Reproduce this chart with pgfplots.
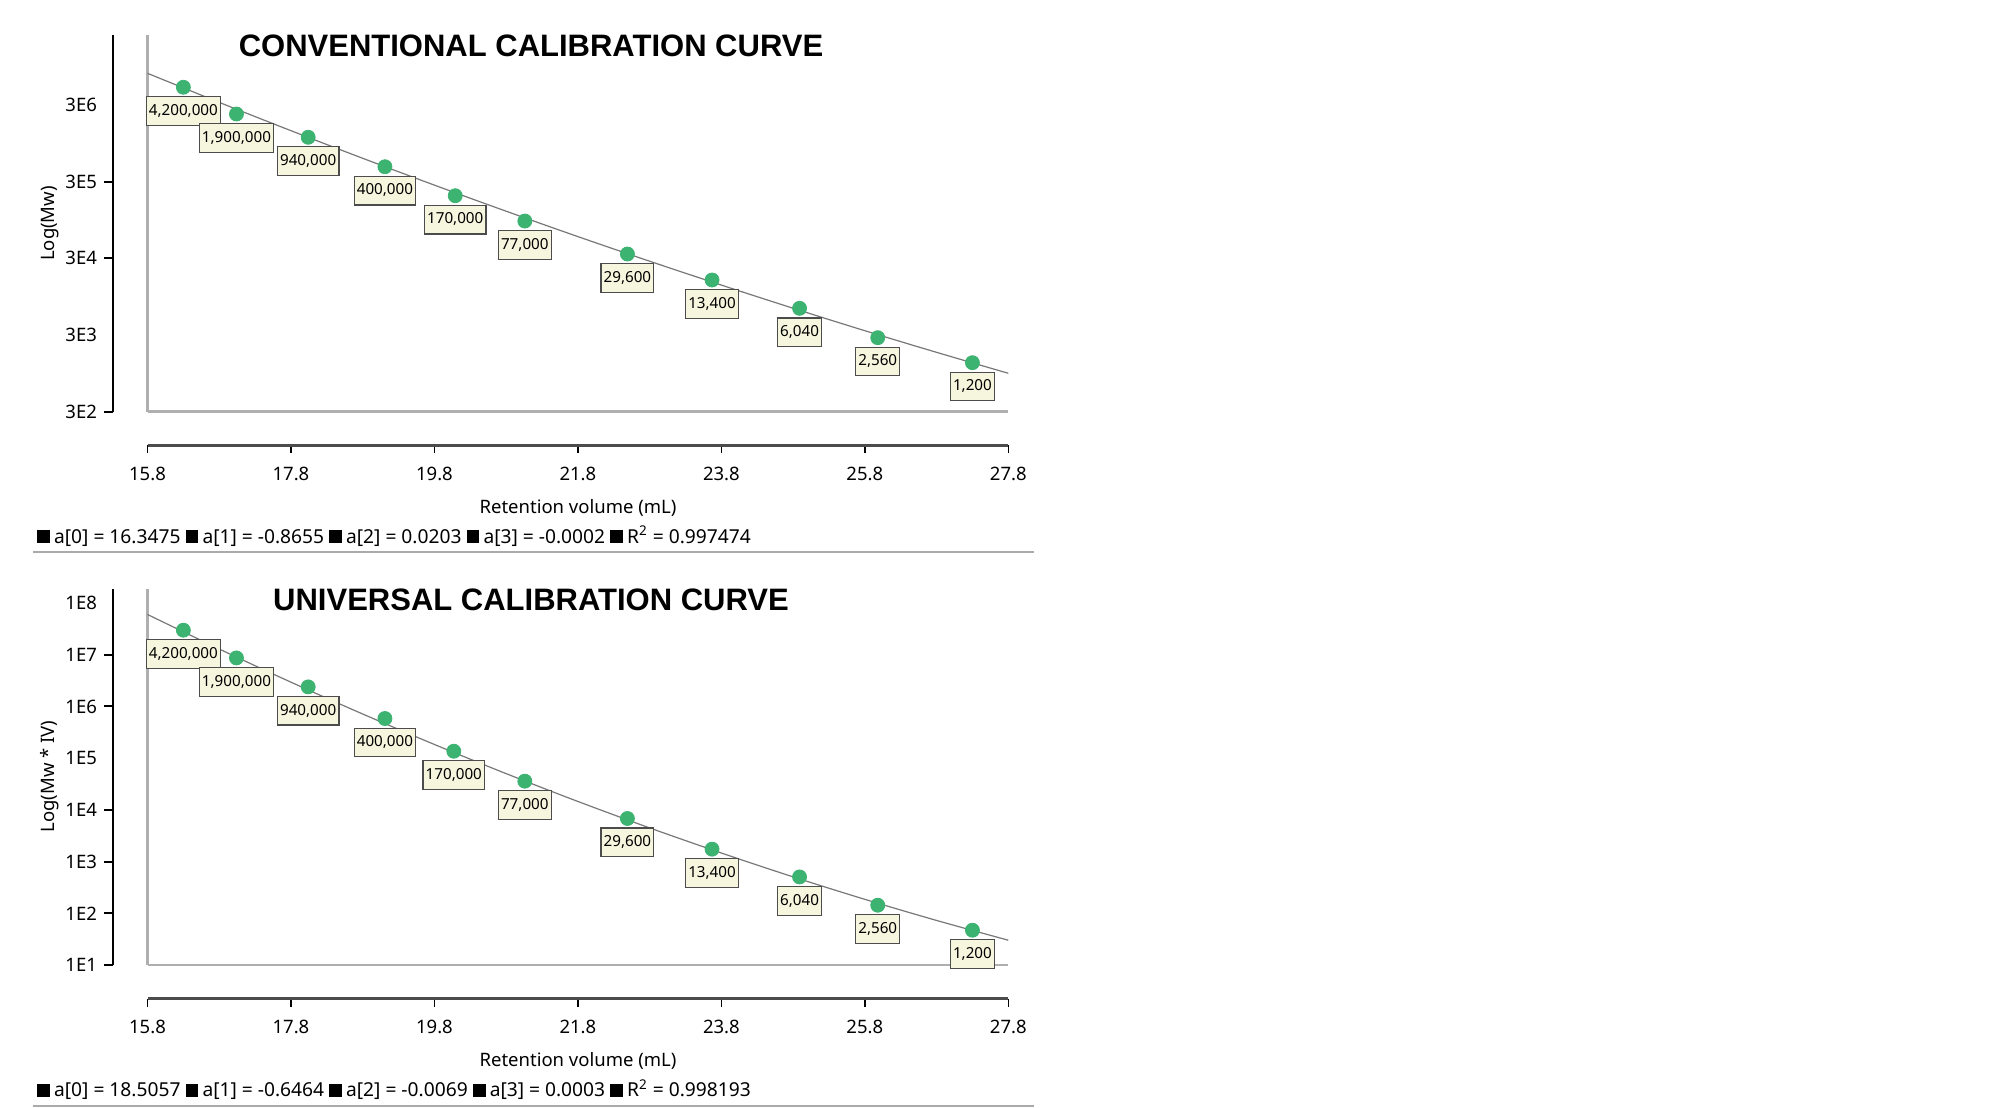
\documentclass[border=0pt]{standalone}
\usepackage{pgfplots}
\usepackage{pgfplotstable}
\pgfplotsset{compat=1.18}
\usepackage{fontspec}
\setmainfont{Noto Sans}
\newfontfamily\titlefam{Liberation Sans}
\definecolor{ptgreen}{RGB}{60,179,113}
\definecolor{boxfill}{RGB}{246,246,222}
\definecolor{axgray}{RGB}{175,175,175}
\definecolor{linegray}{RGB}{120,120,120}
\definecolor{sepgray}{RGB}{170,170,170}
\newcommand\tickfont{\fontsize{9.25pt}{11pt}\selectfont}
\newcommand\coeffont{\fontsize{9.6pt}{11pt}\selectfont}
\newcommand\labfont{\fontsize{7.6pt}{9pt}\selectfont}
\newcommand\sq{\rule{6.4pt}{6.4pt}\hspace{0.22em}}

\pgfplotstableread{
x y label
16.30 6.707 4,200,000
17.04 6.358 1,900,000
18.04 6.055 940,000
19.11 5.671 400,000
20.09 5.293 170,000
21.06 4.963 77,000
22.49 4.533 29,600
23.67 4.194 13,400
24.89 3.825 6,040
25.98 3.442 2,560
27.30 3.116 1,200
}\convpts
\pgfplotstableread{
x y
15.8 6.889
16.8 6.510
17.8 6.141
18.8 5.781
19.8 5.431
20.8 5.091
21.8 4.760
22.8 4.439
23.8 4.128
24.8 3.826
25.8 3.533
26.8 3.251
27.8 2.978
}\convfit
\pgfplotstableread{
x y label
16.30 7.473 4,200,000
17.04 6.938 1,900,000
18.04 6.378 940,000
19.11 5.767 400,000
20.07 5.135 170,000
21.06 4.556 77,000
22.49 3.835 29,600
23.67 3.242 13,400
24.89 2.706 6,040
25.98 2.159 2,560
27.30 1.676 1,200
}\univpts
\pgfplotstableread{
x y
15.8 7.777
16.8 7.110
17.8 6.469
18.8 5.854
19.8 5.265
20.8 4.702
21.8 4.164
22.8 3.653
23.8 3.168
24.8 2.707
25.8 2.273
26.8 1.865
27.8 1.483
}\univfit

\pgfplotsset{
  dataaxis/.style={scale only axis, width=430.4pt, height=188.35pt, anchor=south west,
    xmin=15.8, xmax=27.8, axis x line*=bottom, axis y line*=left,
    xtick=\empty, ytick=\empty, axis line style={draw=axgray, line width=1.25pt}, clip=false},
  yaxisov/.style={scale only axis, width=10pt, height=188.35pt, anchor=south west,
    xmin=0, xmax=1, hide x axis, axis y line*=left,
    axis line style={draw=black, line width=1pt}, ytick align=outside,
    major tick length=4.5pt, yticklabel style={font=\tickfont, text=black}},
  xaxisov/.style={scale only axis, width=430.4pt, height=1pt, anchor=south west,
    xmin=15.8, xmax=27.8, ymin=0, ymax=1, hide y axis, axis x line*=bottom,
    axis line style={draw=black!70, line width=1.5pt},
    xtick={15.8,17.8,19.8,21.8,23.8,25.8,27.8},
    xticklabels={15.8,17.8,19.8,21.8,23.8,25.8,27.8},
    xtick align=outside, major tick length=4pt,
    xtick style={draw=black, line width=0.8pt},
    xticklabel style={font=\tickfont, text=black, yshift=-3.5pt}},
  pts/.style={only marks, mark=*, mark size=3.5pt, mark options={draw=ptgreen, fill=ptgreen},
    point meta=explicit symbolic, nodes near coords={\pgfplotspointmeta},
    every node near coord/.append style={anchor=north, yshift=-4.5pt, fill=boxfill,
      draw=black!70, line width=0.6pt, font=\labfont, text=black,
      inner xsep=1.3pt, inner ysep=3.6pt, text height=5.7pt, text depth=1.4pt}},
  fitline/.style={smooth, draw=linegray, line width=0.6pt, mark=none},
}

\begin{document}
\begin{tikzpicture}
\path[use as bounding box, fill=white] (0pt,0pt) rectangle (1000pt,-553.5pt);

% ---------------- Conventional ----------------
\begin{axis}[dataaxis, at={(73.75pt,-205.85pt)}, ymin=2.4771, ymax=7.3884]
\addplot[fitline] table[x=x,y=y] {\convfit};
\addplot[pts] table[x=x,y=y,meta=label] {\convpts};
\end{axis}
\begin{axis}[yaxisov, at={(56.5pt,-205.85pt)}, ymin=2.4771, ymax=7.3884,
  ytick={2.4771,3.4771,4.4771,5.4771,6.4771}, yticklabels={3E2,3E3,3E4,3E5,3E6},
  ytick style={draw=none}]
\end{axis}
\begin{axis}[yaxisov, at={(56.5pt,-205.85pt)}, ymin=2.4771, ymax=7.3884,
  ytick={2.4771,4.4771,5.4771}, yticklabels={}, ytick style={draw=black, line width=1pt}]
\end{axis}
\begin{axis}[xaxisov, at={(73.75pt,-222.5pt)}]
\end{axis}
\node[anchor=base, font=\titlefam\bfseries\fontsize{15.5pt}{18pt}\selectfont] at (265.5pt,-28.5pt) {CONVENTIONAL CALIBRATION CURVE};
\node[rotate=90, anchor=center, font=\tickfont] at (25pt,-111.75pt) {Log(Mw)};
\node[anchor=base, font=\tickfont] at (289pt,-256.5pt) {Retention volume (mL)};
\node[anchor=base west, font=\coeffont, inner sep=0pt] at (18.35pt,-271.5pt)
  {\sq a[0] = 16.3475 \sq a[1] = -0.8655 \sq a[2] = 0.0203 \sq a[3] = -0.0002 \sq R\textsuperscript{2} = 0.997474};
\draw[sepgray, line width=1pt] (16.5pt,-276.15pt) -- (517pt,-276.15pt);

% ---------------- Universal ----------------
\begin{axis}[dataaxis, at={(73.75pt,-482.6pt)}, ymin=1, ymax=8.279]
\addplot[fitline] table[x=x,y=y] {\univfit};
\addplot[pts] table[x=x,y=y,meta=label] {\univpts};
\end{axis}
\begin{axis}[yaxisov, at={(56.5pt,-482.6pt)}, ymin=1, ymax=8.279,
  ytick={1,2,3,4,5,6,7,8}, yticklabels={1E1,1E2,1E3,1E4,1E5,1E6,1E7,1E8},
  ytick style={draw=none}]
\end{axis}
\begin{axis}[yaxisov, at={(56.5pt,-482.6pt)}, ymin=1, ymax=8.279,
  ytick={1,2,3,4,6,7}, yticklabels={}, ytick style={draw=black, line width=1pt}]
\end{axis}
\begin{axis}[xaxisov, at={(73.75pt,-499.25pt)}]
\end{axis}
\node[anchor=base, font=\titlefam\bfseries\fontsize{15.5pt}{18pt}\selectfont] at (265.5pt,-305.25pt) {UNIVERSAL CALIBRATION CURVE};
\node[rotate=90, anchor=center, font=\tickfont] at (25pt,-388.25pt) {Log(Mw * IV)};
\node[anchor=base, font=\tickfont] at (289pt,-533.25pt) {Retention volume (mL)};
\node[anchor=base west, font=\coeffont, inner sep=0pt] at (18.35pt,-548.25pt)
  {\sq a[0] = 18.5057 \sq a[1] = -0.6464 \sq a[2] = -0.0069 \sq a[3] = 0.0003 \sq R\textsuperscript{2} = 0.998193};
\draw[sepgray, line width=1pt] (16.5pt,-552.9pt) -- (517pt,-552.9pt);
\end{tikzpicture}
\end{document}
